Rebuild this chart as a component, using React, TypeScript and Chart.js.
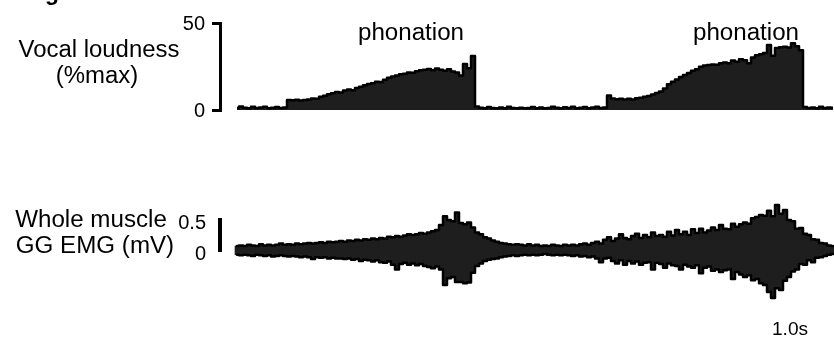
import React, { useEffect, useRef } from 'react';
import { Chart, registerables } from 'chart.js';

Chart.register(...registerables);

const FONT = '"Liberation Sans", Arial, Helvetica, sans-serif';

// ---- time base (s) ----
const SAMPLE_DT = 0.05;
const X_MIN = -0.2125;
const X_MAX = 7.4625;

// ---- Vocal loudness (%max), sampled every SAMPLE_DT ----
const loudRest1 = [1.2, 2.0, 1.3, 1.0, 1.8, 1.1, 1.4, 1.9, 1.0, 1.3, 1.7, 1.1, 1.4];
const loudPhon1 = [
  5.8, 5.6, 5.9, 5.5, 5.7, 6.1, 6.6, 6.4, 7.6, 8.2,
  9.1, 9.6, 10.4, 10.1, 11.2, 11.8, 11.4, 12.6, 13.3, 14.2,
  15.0, 15.4, 16.3, 16.1, 17.4, 18.6, 19.2, 19.8, 20.5, 20.9,
  21.6, 21.4, 22.3, 22.8, 23.1, 23.6, 22.9, 23.8, 23.2, 22.6,
  23.4, 22.1, 21.5, 19.8, 26.4, 24.0, 31.0,
];
const loudRest2 = [
  2.0, 1.3, 1.0, 1.7, 1.2, 1.0, 1.4, 1.0, 1.9, 1.2,
  1.0, 1.3, 1.0, 1.2, 1.7, 1.0, 1.4, 1.0, 1.2, 1.8,
  1.3, 1.0, 1.6, 1.2, 1.9, 1.0, 1.3, 1.7, 1.0, 1.4,
  1.8, 1.2, 1.5,
];
const loudPhon2 = [
  8.4, 6.6, 6.2, 6.4, 6.0, 6.5, 6.1, 6.8, 7.0, 7.6,
  8.1, 8.9, 9.8, 10.6, 12.4, 14.8, 16.2, 17.5, 18.9, 20.1,
  21.2, 22.6, 23.4, 24.9, 25.6, 25.9, 26.2, 26.0, 26.8, 27.3,
  26.9, 28.4, 27.8, 29.1, 28.6, 26.9, 30.2, 31.4, 32.0, 32.8,
  37.4, 31.2, 35.6, 36.0, 36.4, 35.9, 38.3, 36.6, 34.4,
];
const loudRest3 = [1.7, 1.2, 1.4, 1.0, 1.8, 1.2, 1.5, 1.3];

// ---- Whole muscle GG EMG (mV): upper / lower envelope ----
const emgUpperA = [
  0.08, 0.09, 0.08, 0.10, 0.09, 0.08, 0.11, 0.09, 0.10, 0.09,
  0.10, 0.12, 0.10, 0.11, 0.10, 0.12, 0.11, 0.12, 0.13, 0.12,
  0.13, 0.14, 0.13, 0.15, 0.14, 0.15, 0.16, 0.15, 0.17, 0.16,
  0.18, 0.17, 0.19, 0.18, 0.20, 0.19, 0.21, 0.20, 0.23, 0.22,
  0.24, 0.23, 0.25, 0.27, 0.26, 0.27, 0.29, 0.28, 0.30, 0.32,
];
const emgUpperB = [
  0.34, 0.42, 0.56, 0.50, 0.48, 0.62, 0.45, 0.43, 0.46, 0.38,
  0.30, 0.27, 0.22, 0.20, 0.17, 0.15, 0.13, 0.12, 0.11, 0.10,
  0.11, 0.10, 0.09, 0.11, 0.09, 0.10, 0.08, 0.09, 0.08, 0.10,
  0.09, 0.08, 0.10, 0.09, 0.10, 0.09, 0.11, 0.12, 0.10, 0.13,
  0.15, 0.12, 0.18, 0.22, 0.16, 0.20, 0.27, 0.21, 0.19, 0.24,
];
const emgUpperC = [
  0.28, 0.21, 0.26, 0.22, 0.30, 0.24, 0.26, 0.23, 0.31, 0.25,
  0.34, 0.27, 0.31, 0.26, 0.35, 0.29, 0.36, 0.30, 0.33, 0.38,
  0.34, 0.42, 0.36, 0.35, 0.44, 0.39, 0.43, 0.46, 0.44, 0.53,
  0.55, 0.58, 0.57, 0.65, 0.56, 0.74, 0.60, 0.66, 0.50, 0.48,
  0.36, 0.37, 0.28, 0.26, 0.19, 0.18, 0.13, 0.12, 0.09, 0.08,
];
const emgLowerA = [
  -0.06, -0.07, -0.06, -0.07, -0.08, -0.06, -0.07, -0.08, -0.07, -0.09,
  -0.08, -0.07, -0.08, -0.09, -0.08, -0.09, -0.10, -0.09, -0.10, -0.13,
  -0.10, -0.11, -0.10, -0.12, -0.11, -0.12, -0.12, -0.13, -0.12, -0.14,
  -0.13, -0.16, -0.14, -0.15, -0.17, -0.15, -0.18, -0.19, -0.17, -0.22,
  -0.30, -0.21, -0.19, -0.22, -0.20, -0.23, -0.21, -0.24, -0.26, -0.28,
];
const emgLowerB = [
  -0.25, -0.30, -0.55, -0.44, -0.42, -0.50, -0.50, -0.52, -0.51, -0.35,
  -0.24, -0.20, -0.16, -0.14, -0.13, -0.12, -0.10, -0.09, -0.08, -0.07,
  -0.08, -0.07, -0.06, -0.07, -0.06, -0.07, -0.06, -0.05, -0.06, -0.07,
  -0.06, -0.07, -0.06, -0.07, -0.08, -0.07, -0.09, -0.08, -0.10, -0.09,
  -0.12, -0.18, -0.12, -0.11, -0.16, -0.20, -0.15, -0.22, -0.16, -0.20,
];
const emgLowerC = [
  -0.17, -0.22, -0.19, -0.18, -0.30, -0.19, -0.21, -0.27, -0.20, -0.23,
  -0.24, -0.30, -0.22, -0.25, -0.27, -0.23, -0.36, -0.27, -0.25, -0.32,
  -0.30, -0.34, -0.31, -0.30, -0.45, -0.34, -0.38, -0.42, -0.39, -0.47,
  -0.45, -0.52, -0.55, -0.66, -0.76, -0.60, -0.63, -0.48, -0.42, -0.33,
  -0.30, -0.21, -0.22, -0.15, -0.18, -0.11, -0.10, -0.08, -0.06, -0.05,
];

// ---- scale-bar ticks ----
const LOUD_TICKS = [0, 50];
const EMG_TICKS = [0, 0.5];

const loudness = [...loudRest1, ...loudPhon1, ...loudRest2, ...loudPhon2, ...loudRest3];
const emgUpper = [...emgUpperA, ...emgUpperB, ...emgUpperC];
const emgLower = [...emgLowerA, ...emgLowerB, ...emgLowerC];
const timeOf = (i: number) => i * SAMPLE_DT;

const FILL = '#1e1e1e';
const AXIS_W = 220;

function Txt(props: { text: string; cx: number; base: number; size: number; sx?: number; bold?: boolean }) {
  const { text, cx, base, size, sx = 1, bold } = props;
  return (
    <div
      style={{
        position: 'absolute',
        left: cx,
        top: base - size * 0.8465,
        fontFamily: FONT,
        fontSize: size,
        lineHeight: `${size}px`,
        fontWeight: bold ? 700 : 400,
        whiteSpace: 'nowrap',
        color: '#000',
        transform: `translateX(-50%) scaleX(${sx})`,
      }}
    >
      {text}
    </div>
  );
}

export default function App() {
  const topRef = useRef<HTMLCanvasElement | null>(null);
  const botRef = useRef<HTMLCanvasElement | null>(null);

  useEffect(() => {
    const common = {
      responsive: false,
      devicePixelRatio: 1,
      animation: false as const,
      events: [] as any[],
      plugins: { legend: { display: false }, tooltip: { enabled: false }, title: { display: false } },
    };
    const xScale = { type: 'linear' as const, display: false, min: X_MIN, max: X_MAX, offset: false };

    const top = new Chart(topRef.current!, {
      type: 'line',
      data: {
        datasets: [
          {
            data: loudness.map((v, i) => ({ x: timeOf(i), y: v })),
            borderColor: '#000',
            borderWidth: 2.5,
            backgroundColor: FILL,
            fill: 'origin',
            stepped: 'middle',
            pointRadius: 0,
            clip: false,
            borderJoinStyle: 'round',
          } as any,
        ],
      },
      options: {
        ...common,
        layout: { padding: { left: 0, right: 0, top: 23, bottom: 30 } },
        scales: {
          x: xScale,
          y: {
            type: 'linear',
            position: 'left',
            min: 0,
            max: 50,
            afterFit: (s: any) => { s.width = AXIS_W; },
            afterBuildTicks: (s: any) => { s.ticks = LOUD_TICKS.map((v) => ({ value: v })); },
            ticks: { color: '#000', font: { family: FONT, size: 20 }, padding: 7, labelOffset: 1 },
            grid: { drawOnChartArea: false, drawTicks: true, tickLength: 8, lineWidth: 3, color: '#000' },
            border: { display: true, color: '#000', width: 3 },
          },
        },
      } as any,
    });

    const envLine = {
      type: 'line',
      borderColor: '#000',
      borderWidth: 2.5,
      stepped: 'middle',
      pointRadius: 0,
      fill: false,
      clip: false,
      order: 0,
      borderCapStyle: 'round',
      borderJoinStyle: 'round',
    };

    const bot = new Chart(botRef.current!, {
      type: 'bar',
      data: {
        datasets: [
          { ...envLine, data: emgUpper.map((v, i) => ({ x: timeOf(i), y: v })) } as any,
          { ...envLine, data: emgLower.map((v, i) => ({ x: timeOf(i), y: v })) } as any,
          {
            type: 'bar',
            data: emgUpper.map((u, i) => ({ x: timeOf(i), y: [emgLower[i], u] })),
            backgroundColor: FILL,
            borderWidth: 0,
            barPercentage: 1,
            categoryPercentage: 1,
            clip: false,
            order: 1,
          } as any,
        ],
      },
      options: {
        ...common,
        layout: { padding: { left: 0, right: 0, top: 50, bottom: 88 } },
        scales: {
          x: xScale,
          y: {
            type: 'linear',
            position: 'left',
            min: 0,
            max: 0.5,
            afterFit: (s: any) => { s.width = AXIS_W; },
            afterBuildTicks: (s: any) => { s.ticks = EMG_TICKS.map((v) => ({ value: v })); },
            ticks: { color: '#000', font: { family: FONT, size: 20 }, padding: 6, labelOffset: 3 },
            grid: { display: false },
            border: { display: true, color: '#000', width: 4 },
          },
        },
      } as any,
    });

    return () => {
      top.destroy();
      bot.destroy();
    };
  }, []);

  return (
    <div
      style={{
        position: 'fixed',
        left: 0,
        top: 0,
        width: 834,
        height: 339,
        overflow: 'hidden',
        background: '#fff',
      }}
    >
      <canvas ref={topRef} width={834} height={140} style={{ position: 'absolute', left: 0, top: 0, width: 834, height: 140 }} />
      <canvas ref={botRef} width={834} height={169} style={{ position: 'absolute', left: 0, top: 170, width: 834, height: 169 }} />
      <Txt text="g" cx={52} base={0} size={23} bold />
      <Txt text="Vocal loudness" cx={99} base={57} size={23} sx={1.04} />
      <Txt text="(%max)" cx={97} base={83} size={23} sx={1.04} />
      <Txt text="Whole muscle" cx={91} base={227} size={23} sx={1.05} />
      <Txt text="GG EMG (mV)" cx={95} base={253} size={23} sx={1.05} />
      <Txt text="phonation" cx={411} base={40} size={23} sx={1.05} />
      <Txt text="phonation" cx={746} base={40} size={23} sx={1.05} />
      <Txt text="1.0s" cx={790} base={335} size={18} sx={1.06} />
    </div>
  );
}
